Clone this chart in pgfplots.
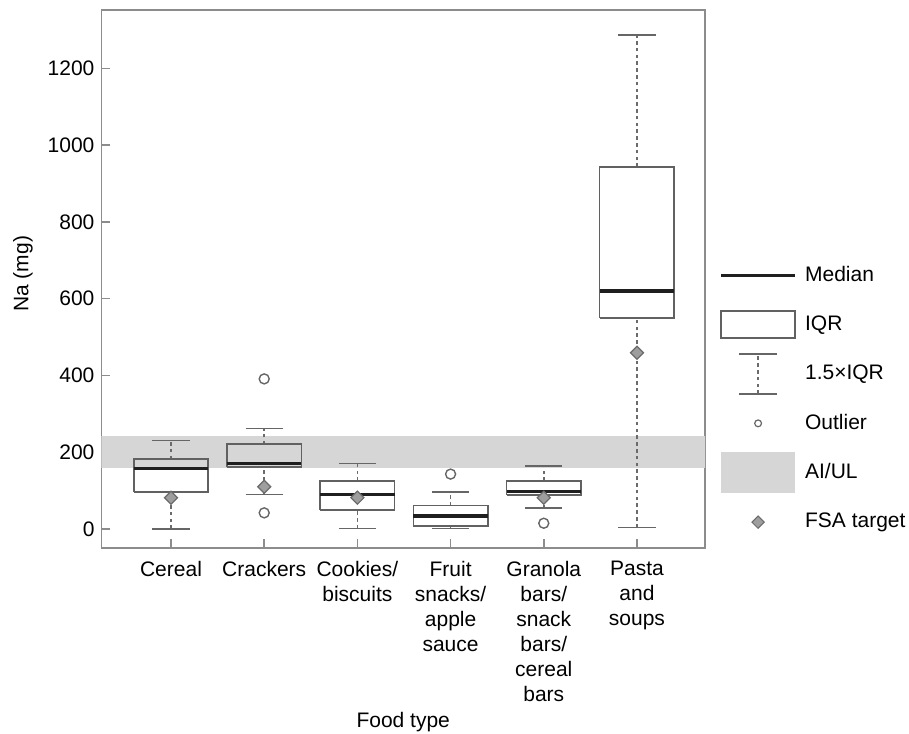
\documentclass[border=0pt]{standalone}
\usepackage{fontspec}
\setmainfont{Liberation Sans}
\usepackage{pgfplots}
\pgfplotsset{compat=1.18}
\definecolor{framegray}{gray}{0.55}
\definecolor{boxgray}{gray}{0.38}
\definecolor{whiskgray}{gray}{0.42}
\definecolor{capgray}{gray}{0.40}
\definecolor{outgray}{gray}{0.40}
\definecolor{fsafill}{gray}{0.62}
\definecolor{fsaedge}{gray}{0.42}
\definecolor{bandgray}{gray}{0.84}
\definecolor{medblack}{gray}{0.12}
\begin{document}
\begin{tikzpicture}[font=\fontsize{10.5}{12.5}\selectfont]
\begin{axis}[
  scale only axis, width=301.75pt, height=269.15pt,
  xmin=-0.746, xmax=5.73, ymin=-50.3, ymax=1352,
  axis line style={framegray, line width=0.8pt},
  xtick={0,1,2,3,4,5},
  xticklabels={Cereal, Crackers, {Cookies/\\biscuits}, {Fruit\\snacks/\\apple\\sauce}, {Granola\\bars/\\snack\\bars/\\cereal\\bars}, {Pasta\\and\\soups}},
  xticklabel style={align=center, anchor=north, yshift=-3pt},
  ytick={0,200,400,600,800,1000,1200},
  major tick style={framegray, line width=0.8pt}, major tick length=4.5pt,
  tick align=inside, xtick pos=bottom, ytick pos=left,
  /pgf/number format/assume math mode=true, /pgf/number format/1000 sep={},
  ylabel={Na (mg)}, ylabel style={at={(axis description cs:-0.130,0.51)}, anchor=center},
  xlabel={Food type}, xlabel style={at={(axis description cs:0.5,-0.322)}, anchor=center},
  unbounded coords=jump,
  legend cell align=left,
  legend style={draw=none, fill=none, at={(axis description cs:1,0.278)}, anchor=west,
    xshift=7.25pt, row sep=0pt, column sep=0pt, inner sep=0pt, outer sep=0pt,
    nodes={inner sep=0pt}},
]
% AI/UL band (160-242 mg)
\addplot[fill=bandgray, draw=none, forget plot] coordinates {(-1,160) (7,160) (7,242) (-1,242)};

% whisker stems (dashed): lower whisker -> lower quartile, upper quartile -> upper whisker
\addplot[forget plot, whiskgray, line width=0.8pt, dash pattern=on 1.8pt off 1.6pt] coordinates {
 (0,0) (0,95.6) (0,nan) (0,182) (0,231) (0,nan)
 (1,90) (1,162) (1,nan) (1,221) (1,262) (1,nan)
 (2,1) (2,49) (2,nan) (2,125) (2,171) (2,nan)
 (3,1) (3,7) (3,nan) (3,61) (3,96) (3,nan)
 (4,54) (4,89) (4,nan) (4,125) (4,164) (4,nan)
 (5,4) (5,549) (5,nan) (5,943) (5,1287)};
% whisker caps
\addplot[forget plot, capgray, line width=0.8pt] coordinates {
 (-0.2,0) (0.2,0) (0,nan) (-0.2,231) (0.2,231) (0,nan)
 (0.8,90) (1.2,90) (1,nan) (0.8,262) (1.2,262) (1,nan)
 (1.8,1) (2.2,1) (2,nan) (1.8,171) (2.2,171) (2,nan)
 (2.8,1) (3.2,1) (3,nan) (2.8,96) (3.2,96) (3,nan)
 (3.8,54) (4.2,54) (4,nan) (3.8,164) (4.2,164) (4,nan)
 (4.8,4) (5.2,4) (5,nan) (4.8,1287) (5.2,1287)};
% IQR boxes
\addplot[forget plot, boxgray, line width=0.8pt, line join=miter] coordinates {
 (-0.4,95.6) (0.4,95.6) (0.4,182) (-0.4,182) (-0.4,95.6) (0,nan)
 (0.6,162) (1.4,162) (1.4,221) (0.6,221) (0.6,162) (1,nan)
 (1.6,49) (2.4,49) (2.4,125) (1.6,125) (1.6,49) (2,nan)
 (2.6,7) (3.4,7) (3.4,61) (2.6,61) (2.6,7) (3,nan)
 (3.6,89) (4.4,89) (4.4,125) (3.6,125) (3.6,89) (4,nan)
 (4.6,549) (5.4,549) (5.4,943) (4.6,943) (4.6,549)};
% medians
\addplot[forget plot, medblack, line width=1.6pt] coordinates {
 (-0.4,157) (0.4,157) (0,nan)
 (0.6,171) (1.4,171) (1,nan)
 (1.6,90) (2.4,90) (2,nan)
 (2.6,34) (3.4,34) (3,nan)
 (3.6,97) (4.4,97) (4,nan)
 (4.6,620) (5.4,620)};
% outliers
\addplot[only marks, forget plot, mark=o, mark size=2.5pt, mark options={outgray, line width=0.7pt}]
  coordinates {(1,391) (1,42) (3,143) (4,15)};
% FSA targets
\addplot[only marks, forget plot, mark=square*, mark size=2.3pt, mark options={rotate=45, fill=fsafill, draw=fsaedge, line width=0.6pt}]
  coordinates {(0,81.5) (1,110) (2,81.5) (4,81.5) (5,459)};

\addlegendimage{legend image code/.code={\path[draw=none, fill=none] (0pt,-12.35pt) rectangle (42pt,12.35pt); \draw[medblack, line width=1.6pt] (0pt,0pt) -- (37pt,0pt);}}
\addlegendentry{Median}
\addlegendimage{legend image code/.code={\path[draw=none, fill=none] (0pt,-12.35pt) rectangle (42pt,12.35pt); \draw[boxgray, line width=0.8pt, fill=none] (0pt,-6.75pt) rectangle (37pt,6.75pt);}}
\addlegendentry{IQR}
\addlegendimage{legend image code/.code={\path[draw=none, fill=none] (0pt,-12.35pt) rectangle (42pt,12.35pt); \draw[whiskgray, line width=0.8pt, dash pattern=on 1.8pt off 1.6pt] (18.5pt,-10pt) -- (18.5pt,10pt); \draw[capgray, line width=0.8pt, solid] (9pt,-10pt) -- (28pt,-10pt) (9pt,10pt) -- (28pt,10pt);}}
\addlegendentry{1.5×IQR}
\addlegendimage{legend image code/.code={\path[draw=none, fill=none] (0pt,-12.35pt) rectangle (42pt,12.35pt); \draw[outgray, line width=0.6pt, fill=none] (18.5pt,0pt) circle (1.7pt);}}
\addlegendentry{Outlier}
\addlegendimage{legend image code/.code={\path[draw=none, fill=none] (0pt,-12.35pt) rectangle (42pt,12.35pt); \fill[bandgray, draw=none] (0pt,-10.25pt) rectangle (37pt,10.25pt);}}
\addlegendentry{AI/UL}
\addlegendimage{legend image code/.code={\path[draw=none, fill=none] (0pt,-12.35pt) rectangle (42pt,12.35pt); \draw[fsaedge, fill=fsafill, line width=0.5pt] (18.5pt,-3.1pt) -- (21.6pt,0pt) -- (18.5pt,3.1pt) -- (15.4pt,0pt) -- cycle;}}
\addlegendentry{FSA target}
\end{axis}
\pgfresetboundingbox
\path ([shift={(-50.75pt,-92.85pt)}]current axis.south west) rectangle ([shift={(102pt,5pt)}]current axis.north east);
\end{tikzpicture}
\end{document}
